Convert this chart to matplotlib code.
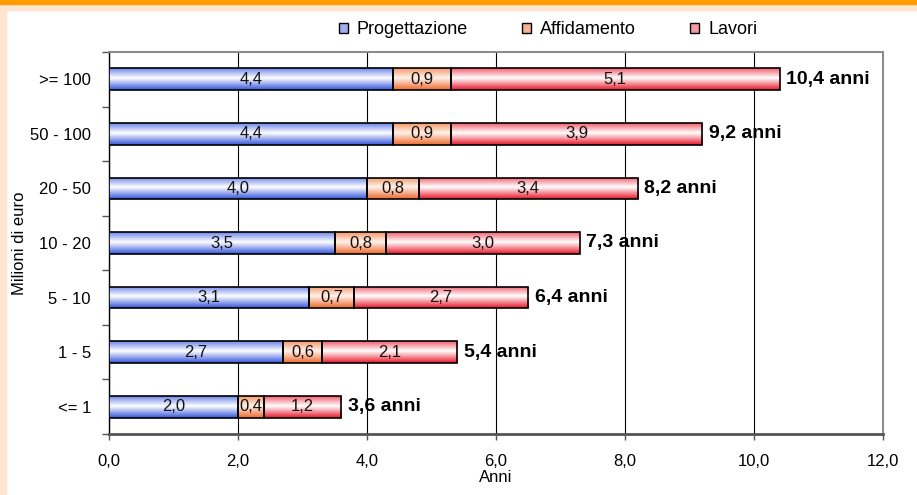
import numpy as np
import matplotlib
matplotlib.use("Agg")
import matplotlib.pyplot as plt
from matplotlib.colors import LinearSegmentedColormap
from matplotlib.patches import Rectangle

categories = ["<= 1", "1 - 5", "5 - 10", "10 - 20", "20 - 50", "50 - 100", ">= 100"]
progettazione = [2.0, 2.7, 3.1, 3.5, 4.0, 4.4, 4.4]
affidamento = [0.4, 0.6, 0.7, 0.8, 0.8, 0.9, 0.9]
lavori = [1.2, 2.1, 2.7, 3.0, 3.4, 3.9, 5.1]
totali = [3.6, 5.4, 6.4, 7.3, 8.2, 9.2, 10.4]
series_names = ["Progettazione", "Affidamento", "Lavori"]
xticks = [0, 2, 4, 6, 8, 10, 12]

plt.rcParams['font.family'] = ['Liberation Sans', 'DejaVu Sans']


def fmt(v):
    return f"{v:.1f}".replace(".", ",")


# gradient colours: bottom edge, middle, top edge
grads = [
    ("#3556dc", "#ffffff", "#6d86ea"),
    ("#ee6a2c", "#fff2ea", "#f39a6c"),
    ("#e8182c", "#ffffff", "#f0606e"),
]
legend_colors = ["#9fb0f2", "#f7b294", "#f49aa2"]

fig = plt.figure(figsize=(9.17, 4.95), dpi=100, facecolor="white")
H, W = 495, 917
# border decoration
fig.patches.append(Rectangle((0, 0), 6 / W, 1, transform=fig.transFigure, color="#ffe5cf", zorder=0))
fig.patches.append(Rectangle((0, 1 - 10 / H), 1, 10 / H, transform=fig.transFigure, color="#ffe5cf", zorder=0))
fig.patches.append(Rectangle((0, 1 - 4 / H), 1, 4 / H, transform=fig.transFigure, color="#ff9c00", zorder=1))

ax = fig.add_axes([109 / W, 1 - 434 / H, 774 / W, 382 / H])
ax.set_facecolor("white")

y = np.arange(len(categories))
h = 0.4
left = np.zeros(len(categories))
for vals, (cb, cm, ct) in zip([progettazione, affidamento, lavori], grads):
    cmap = LinearSegmentedColormap.from_list("g", [(0, cb), (0.55, cm), (1, ct)])
    grad = np.linspace(0, 1, 64).reshape(-1, 1)
    bars = ax.barh(y, vals, height=h, left=left, facecolor="none",
                   edgecolor="black", linewidth=1.2, zorder=4)
    for b, v in zip(bars, vals):
        x0, y0, bw, bh = b.get_x(), b.get_y(), b.get_width(), b.get_height()
        im = ax.imshow(grad, cmap=cmap, origin="lower", aspect="auto",
                       extent=[x0, x0 + bw, y0, y0 + bh], zorder=3)
        im.set_clip_path(b)
        ax.text(x0 + bw / 2, y0 + bh / 2, fmt(v), ha="center", va="center",
                fontsize=12, color="#111111", zorder=5)
    left = left + np.array(vals)

for yi, end, t in zip(y, left, totali):
    ax.text(end + 0.1, yi, fmt(t) + " anni", ha="left", va="center",
            fontsize=14, fontweight="bold", zorder=5)

ax.set_xlim(0, 12)
ax.set_ylim(-0.5, len(categories) - 0.5)
ax.set_xticks(xticks)
ax.set_xticklabels([fmt(v) for v in xticks], fontsize=12)
ax.set_yticks(y)
ax.set_yticklabels(categories, fontsize=12)
ax.set_yticks(np.arange(-0.5, len(categories), 1), minor=True)
ax.tick_params(axis="y", which="major", length=0, pad=13)
ax.tick_params(axis="y", which="minor", length=5, width=1, color="#555555")
ax.tick_params(axis="x", length=4.5, width=1, color="#555555", pad=10)
ax.grid(axis="x", color="black", linewidth=0.8, zorder=1)
ax.set_axisbelow(True)

for s in ["top", "right"]:
    ax.spines[s].set_color("#8c8c8c")
    ax.spines[s].set_linewidth(1.5)
ax.spines["left"].set_color("black")
ax.spines["left"].set_linewidth(1.0)
ax.spines["bottom"].set_color("#555555")
ax.spines["bottom"].set_linewidth(2.0)

ax.set_xlabel("Anni", fontsize=12, va="center")
ax.xaxis.set_label_coords(0.5, -0.115)
ax.set_ylabel("Milioni di euro", fontsize=12, va="center")
ax.yaxis.set_label_coords(-0.115, 0.5)

handles = [Rectangle((0, 0), 1, 1, facecolor=c, edgecolor="black", linewidth=1)
           for c in legend_colors]
fig.legend(handles, series_names, loc="center", bbox_to_anchor=(548 / W, 1 - 30 / H),
           ncol=3, frameon=False, fontsize=13, handlelength=0.5, handleheight=0.5,
           handletextpad=0.5, columnspacing=3.0)

fig.savefig("out.png", dpi=100, facecolor=fig.get_facecolor())
